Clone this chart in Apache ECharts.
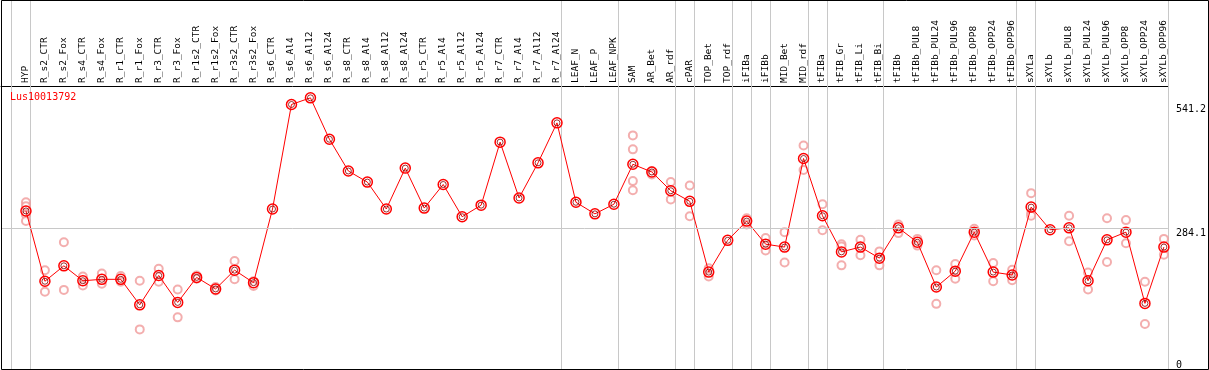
<!DOCTYPE html>
<html>
<head>
<meta charset="utf-8">
<script src="https://cdn.jsdelivr.net/npm/echarts@6/dist/echarts.min.js"></script>
<style>
html,body{margin:0;padding:0;background:#fff;}
#chart{width:1209px;height:370px;}
</style>
</head>
<body>
<div id="chart"></div>
<script>
const title = 'Lus10013792';
const categories = ['HYP','R_s2_CTR','R_s2_Fox','R_s4_CTR','R_s4_Fox','R_r1_CTR','R_r1_Fox','R_r3_CTR','R_r3_Fox','R_r1s2_CTR','R_r1s2_Fox','R_r3s2_CTR','R_r3s2_Fox','R_s6_CTR','R_s6_Al4','R_s6_Al12','R_s6_Al24','R_s8_CTR','R_s8_Al4','R_s8_Al12','R_s8_Al24','R_r5_CTR','R_r5_Al4','R_r5_Al12','R_r5_Al24','R_r7_CTR','R_r7_Al4','R_r7_Al12','R_r7_Al24','LEAF_N','LEAF_P','LEAF_NPK','SAM','AR_Bet','AR_rdf','cPAR','TOP_Bet','TOP_rdf','iFIBa','iFIBb','MID_Bet','MID_rdf','tFIBa','tFIB_Gr','tFIB_Li','tFIB_Bi','tFIBb','tFIBb_PUL8','tFIBb_PUL24','tFIBb_PUL96','tFIBb_OPP8','tFIBb_OPP24','tFIBb_OPP96','sXYLa','sXYLb','sXYLb_PUL8','sXYLb_PUL24','sXYLb_PUL96','sXYLb_OPP8','sXYLb_OPP24','sXYLb_OPP96'];
const means = [320,174,206,175,178,178,125,186,130,182,158,197,171,324,541.2,555,469,403,380,324,409,326,375,308,332,463,347,420,503,338,314,334,417,401,362,340,193,259,299,251,245,429,310,235,245,222,285,255,162,195,276,193,187,328,281,285,175,260,276,128,245];
const replicates = [[338,330,312,299],[197,152],[255,156],[184,165],[190,169],[185,173],[175,74],[200,173],[157,99],[186,179],[162,155],[216,178],[174,164],[],[],[],[],[],[],[],[],[],[],[],[],[],[],[],[],[],[],[],[477,448,382,363],[403,396],[380,344],[373,309],[201,184],[],[305,292],[264,238],[276,213],[456,405],[334,280],[251,246,207],[260,228],[236,207],[292,274],[262,248],[197,127],[210,179],[283,269],[212,174],[198,176],[357,315,310],[],[310,257],[192,157],[305,214],[301,253],[173,85],[262,229]];
const yTickLabels = [284.1, 541.2];
const yZeroLabel = [0];
const referenceLine = 284.1;
const groupStarts = [0,1,29,32,35,36,38,39,40,42,43,46,53,54,61];

const FONT = 'DejaVu Sans Mono';
const OFF = 15/19; // point position inside its slot
const xMin = -1 - 6/19, xMax = categories.length - OFF;
const yMin = -8.1, yMax = 579.6;

const meanData = means.map((v,i)=>[i,v]);
const repData = [];
replicates.forEach((arr,i)=>arr.forEach(v=>repData.push([i,v])));

const chart = echarts.init(document.getElementById('chart'), null, {renderer:'canvas'});
const yAxisBase = {
  type:'value', min:yMin, max:yMax, position:'right',
  axisLine:{show:false, onZero:false}, axisTick:{show:false}, splitLine:{show:false}
};
chart.setOption({
  animation:false,
  backgroundColor:'#fff',
  title:{text:title, left:10, top:92, padding:0,
    textStyle:{color:'#ff0000', fontSize:10, fontWeight:'normal', fontFamily:FONT}},
  grid:{left:1, right:39, top:86, bottom:1, containLabel:false},
  xAxis:{
    type:'value', position:'top', min:xMin, max:xMax,
    axisLine:{show:true, onZero:false, lineStyle:{color:'#000', width:1}},
    axisTick:{show:false}, splitLine:{show:false}, axisLabel:{show:false}
  },
  yAxis:[
    Object.assign({}, yAxisBase, {axisLabel:{customValues:yTickLabels, verticalAlign:'top', margin:8,
      formatter:(v)=>String(v), color:'#000', fontSize:10, fontFamily:FONT}}),
    Object.assign({}, yAxisBase, {axisLabel:{customValues:yZeroLabel, verticalAlign:'middle', margin:8,
      formatter:(v)=>String(v), color:'#000', fontSize:10, fontFamily:FONT}})
  ],
  graphic:[{type:'rect', silent:true, z:100,
    shape:{x:1.5, y:0.5, width:1207, height:369},
    style:{fill:null, stroke:'#000', lineWidth:1}}],
  series:[
    {type:'custom', name:'groups', silent:true, clip:false, z:1,
      data:groupStarts.map(k=>[k]),
      renderItem:(params, api)=>{
        const x = Math.round(api.coord([api.value(0) - OFF, 0])[0]) + 0.5;
        return {type:'line', shape:{x1:x, y1:0, x2:x, y2:369},
          style:{stroke:'#c8c8c8', lineWidth:1}};
      }},
    {type:'custom', name:'categoryLabels', silent:true, clip:false, z:5,
      data:categories.map((c,i)=>[i]),
      renderItem:(params, api)=>{
        const i = api.value(0);
        const x = api.coord([i, 0])[0] - 0.5;
        const top = params.coordSys.y;
        return {type:'text', x:x, y:top - 3, rotation:Math.PI/2,
          style:{text:categories[i], textAlign:'left', textVerticalAlign:'middle',
            fill:'#000', font:'9.5px "DejaVu Sans Mono"'}};
      }},
    {type:'scatter', name:'replicates', data:repData, symbol:'emptyCircle', symbolSize:8, z:2,
      itemStyle:{color:'#f09a9a', borderColor:'#f09a9a', borderWidth:1.2}, silent:true,
      markLine:{silent:true, symbol:'none', label:{show:false},
        lineStyle:{color:'#c8c8c8', type:'solid', width:1},
        data:[{yAxis:referenceLine}]}},
    {type:'line', name:'mean', data:meanData, z:3, symbol:'circle', symbolSize:10,
      lineStyle:{color:'#ff0000', width:1},
      itemStyle:{color:'rgba(0,0,0,0)', borderColor:'#ff0000', borderWidth:1.5}, silent:true},
    {type:'scatter', name:'meanInner', data:meanData, z:4, symbol:'circle', symbolSize:6,
      itemStyle:{color:'rgba(0,0,0,0)', borderColor:'#800000', borderWidth:1}, silent:true}
  ]
});
</script>
</body>
</html>
